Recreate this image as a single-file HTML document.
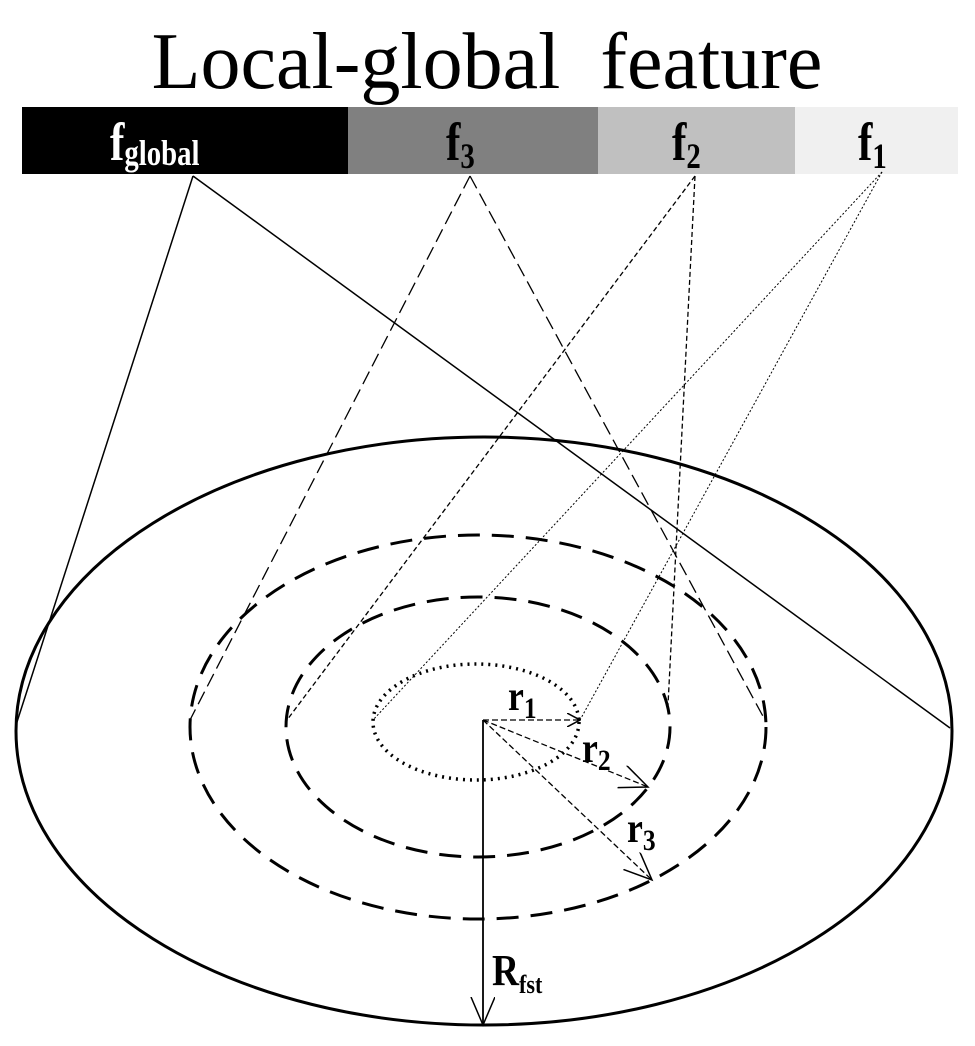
<!DOCTYPE html>
<html><head><meta charset="utf-8"><style>
body{margin:0;background:#fff}
svg{display:block}
text{font-family:"Liberation Serif",serif}
</style></head><body>
<svg width="975" height="1046" viewBox="0 0 975 1046" xmlns="http://www.w3.org/2000/svg">
<defs>
<marker id="a" markerWidth="14" markerHeight="14" refX="13" refY="7" orient="auto" markerUnits="userSpaceOnUse">
<path d="M0,0 L13,7 L0,14" fill="none" stroke="#000" stroke-width="1.5"/>
</marker>
<marker id="b" markerWidth="30" markerHeight="30" refX="28" refY="12" orient="auto" markerUnits="userSpaceOnUse">
<path d="M0,0 L28,12 L0,24" fill="none" stroke="#000" stroke-width="1.5"/>
</marker>
</defs>
<text x="487" y="88" font-size="80" text-anchor="middle" xml:space="preserve">Local-global  feature</text>
<rect x="22" y="107" width="326" height="67" fill="#000"/>
<rect x="348" y="107" width="250" height="67" fill="#808080"/>
<rect x="598" y="107" width="197" height="67" fill="#c0c0c0"/>
<rect x="795" y="107" width="163" height="67" fill="#f0f0f0"/>
<g font-weight="bold">
<text transform="translate(110,160) scale(0.8,1)" font-size="54" fill="#fff">f<tspan font-size="36" dy="5">global</tspan></text>
<text transform="translate(446,160) scale(0.8,1)" font-size="54">f<tspan font-size="36" dy="8">3</tspan></text>
<text transform="translate(672,160) scale(0.8,1)" font-size="54">f<tspan font-size="36" dy="8">2</tspan></text>
<text transform="translate(858,160) scale(0.8,1)" font-size="54">f<tspan font-size="36" dy="8">1</tspan></text>
</g>
<g fill="none" stroke="#000">
<line x1="193" y1="176" x2="16" y2="725" stroke-width="1.5"/>
<line x1="193" y1="176" x2="950" y2="728" stroke-width="1.5"/>
<line x1="470" y1="176" x2="190" y2="720" stroke-width="1.3" stroke-dasharray="14,6"/>
<line x1="470" y1="176" x2="765" y2="720" stroke-width="1.3" stroke-dasharray="14,6"/>
<line x1="695" y1="176" x2="287" y2="720" stroke-width="1.3" stroke-dasharray="5,3"/>
<line x1="695" y1="176" x2="668" y2="705" stroke-width="1.3" stroke-dasharray="5,3"/>
<line x1="882" y1="172" x2="373" y2="720" stroke-width="1" stroke-dasharray="2,2"/>
<line x1="882" y1="172" x2="580" y2="720" stroke-width="1" stroke-dasharray="2,2"/>
<ellipse cx="484" cy="731" rx="468" ry="294" stroke-width="3"/>
<ellipse cx="478" cy="727" rx="288" ry="192" stroke-width="3" stroke-dasharray="22,12"/>
<ellipse cx="478" cy="727" rx="192" ry="130" stroke-width="3" stroke-dasharray="22,12"/>
<ellipse cx="476" cy="722" rx="103" ry="58" stroke-width="3.5" stroke-dasharray="2,5"/>
<line x1="483" y1="720" x2="483" y2="1025" stroke-width="1.8" marker-end="url(#b)"/>
<line x1="483" y1="720" x2="580" y2="720" stroke-width="1.3" stroke-dasharray="6,3" marker-end="url(#a)"/>
<line x1="483" y1="720" x2="648" y2="787" stroke-width="1.3" stroke-dasharray="6,3" marker-end="url(#b)"/>
<line x1="483" y1="720" x2="652" y2="880" stroke-width="1.3" stroke-dasharray="6,3" marker-end="url(#b)"/>
</g>
<g font-weight="bold">
<text transform="translate(508,710) scale(0.85,1)" font-size="42">r<tspan font-size="30" dy="8">1</tspan></text>
<text transform="translate(582,762) scale(0.85,1)" font-size="42">r<tspan font-size="30" dy="8">2</tspan></text>
<text transform="translate(627,842) scale(0.85,1)" font-size="42">r<tspan font-size="30" dy="8">3</tspan></text>
<text transform="translate(492,985) scale(0.85,1)" font-size="44">R<tspan font-size="26" dy="8">fst</tspan></text>
</g>
</svg>
</body></html>
